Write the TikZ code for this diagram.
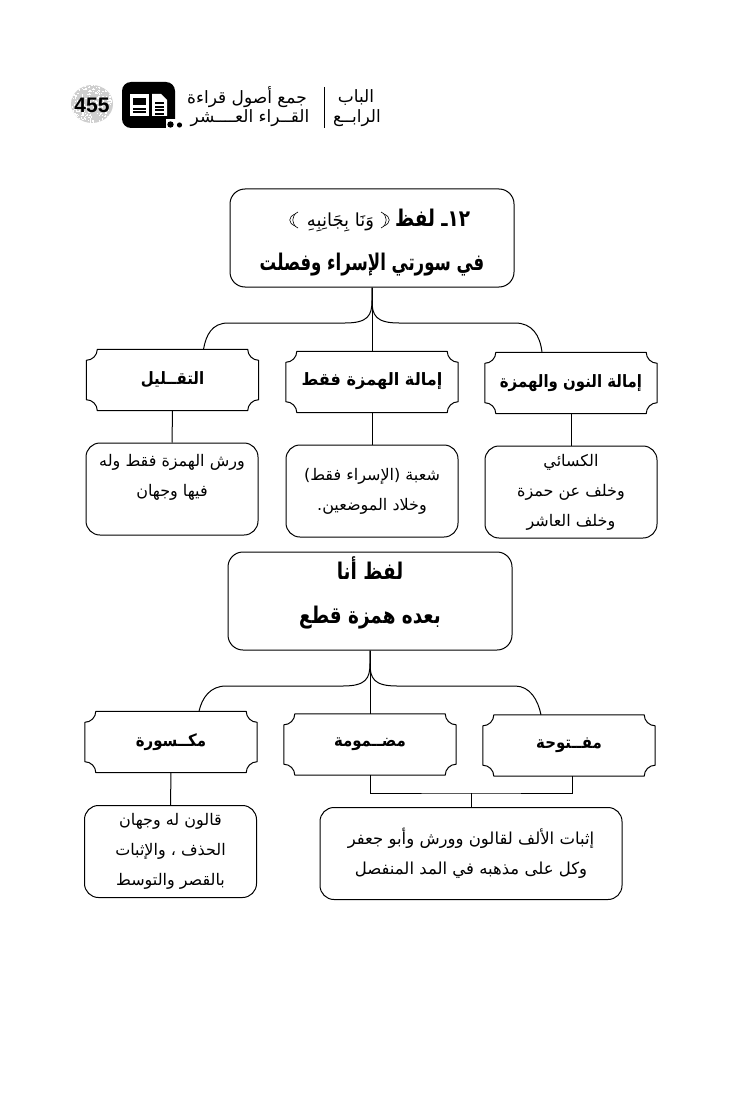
\documentclass[tikz,border=0pt]{standalone}
\usepackage{fontspec}
\usepackage{graphicx}
\setmainfont{Liberation Sans}
\newfontfamily\arabicfont[Script=Arabic]{DejaVu Sans}
\TeXXeTstate=1
\newcommand{\ar}[1]{\beginR #1\endR}
\newcommand{\arc}[1]{\scalebox{.8}[1]{\ar{#1}}}
\newcommand{\arp}[2][.88]{\scalebox{#1}[1]{\ar{#2}}}
\tikzset{
  ink/.style={draw=black,line width=1pt},
  link/.style={draw=black,line width=1pt},
  ornament/.style={draw=black,line width=0.6pt},
  plaque/.style={minimum width=172pt,minimum height=61pt,inner sep=0pt,align=center,
    font=\arabicfont\bfseries\fontsize{17}{20}\selectfont,
    append after command={
      \pgfextra{
        \draw[ink,line join=round]
        ([xshift=11pt]\tikzlastnode.north west) -- ([xshift=-11pt]\tikzlastnode.north east)
        .. controls ([xshift=-11pt,yshift=-6pt]\tikzlastnode.north east) and ([xshift=-6pt,yshift=-11pt]\tikzlastnode.north east) .. ([yshift=-11pt]\tikzlastnode.north east)
        -- ([yshift=11pt]\tikzlastnode.south east)
        .. controls ([xshift=-6pt,yshift=11pt]\tikzlastnode.south east) and ([xshift=-11pt,yshift=6pt]\tikzlastnode.south east) .. ([xshift=-11pt]\tikzlastnode.south east)
        -- ([xshift=11pt]\tikzlastnode.south west)
        .. controls ([xshift=11pt,yshift=6pt]\tikzlastnode.south west) and ([xshift=6pt,yshift=11pt]\tikzlastnode.south west) .. ([yshift=11pt]\tikzlastnode.south west)
        -- ([yshift=-11pt]\tikzlastnode.north west)
        .. controls ([xshift=6pt,yshift=-11pt]\tikzlastnode.north west) and ([xshift=11pt,yshift=-6pt]\tikzlastnode.north west) .. cycle;
      }
    }},
  titlebox/.style={ink,rounded corners=15pt,minimum width=284pt,minimum height=98pt,inner sep=0pt,align=center,
    font=\arabicfont\bfseries\fontsize{23}{44}\selectfont},
  bodybox/.style={ink,rounded corners=14pt,minimum width=172pt,minimum height=92pt,inner sep=0pt,align=center,
    font=\arabicfont\fontsize{16}{30}\selectfont},
  widebox/.style={bodybox,minimum width=302pt},
  headtext/.style={inner sep=0pt,font=\arabicfont\fontsize{17}{20}\selectfont},
}
\begin{document}
\begin{tikzpicture}[x=1pt,y=-1pt]
\useasboundingbox (0,0) rectangle (746,1094);
% header
\begin{scope}
\clip (92,104) ellipse [x radius=21pt,y radius=19pt];
\fill[gray!38] (70,84) rectangle (114,124);
\pgfmathsetseed{7}
\foreach \i in {1,...,260}{
  \pgfmathsetmacro{\px}{70+44*rnd}
  \pgfmathsetmacro{\py}{84+40*rnd}
  \fill[white] (\px,\py) rectangle (\px+1.3,\py+1.3);
}
\end{scope}
\node[inner sep=0pt,font=\bfseries\fontsize{21}{21}\selectfont] (pagenum) at (92,105) {455};
\fill[black,rounded corners=9pt] (122,82) rectangle (175,128);
\fill[white] (166,128) -- (166,119) -- (176,119) -- (176,128) -- cycle;
\fill[black] (170.5,124.5) circle [radius=3.2pt];
\fill[black] (179.5,125) circle [radius=2.6pt];
\fill[white] (130,94) rectangle (149,116);
\fill[white] (152,94) -- (161,94) -- (167,100) -- (167,116) -- (152,116) -- cycle;
\fill[black] (133,98) rectangle (146,105);
\foreach \yy in {108,111.5} \fill[black] (133,\yy) rectangle (146,\yy+1.8);
\foreach \yy in {102,106,109.5,113} \fill[black] (155,\yy) rectangle (164,\yy+1.8);
\draw[black,line width=0.8pt] (324,87) -- (324,128);
\node[headtext] (h1) at (356,97) {\ar{الباب}};
\node[headtext] (h2) at (357,118) {\ar{الرابــع}};
\node[headtext] (h3) at (247,97) {\ar{جمع أصول قراءة}};
\node[headtext] (h4) at (250,118) {\ar{القــراء العــــشر}};
% first tree
\node[titlebox] (m1) at (372,238) {\rule{0pt}{27pt}\hspace*{33pt}{\mdseries\fontsize{18}{18}\selectfont\ar{وَنَا بِجَانِبِهِ}}\hspace{21pt}\arc{١٢ـ لفظ}\\\scalebox{.72}[1]{\ar{في سورتي الإسراء وفصلت}}};
\draw[ornament] (298,212) .. controls (291,215) and (291,225) .. (298,228);
\draw[ornament] (295,214) .. controls (288,217) and (288,223) .. (295,226);
\draw[ornament] (381,212) .. controls (388,215) and (388,225) .. (381,228);
\draw[ornament] (384,214) .. controls (391,217) and (391,223) .. (384,226);
\node[plaque] (pc) at (172.5,380) {\raisebox{2pt}{\arp{التقــليل}}};
\node[plaque] (pb) at (372,382) {\raisebox{5pt}{\arp[.95]{إمالة الهمزة فقط}}};
\node[plaque] (pa) at (571,383) {\raisebox{2pt}{\arp{إمالة النون والهمزة}}};
\node[bodybox] (bc) at (172,489) {\ar{ورش الهمزة فقط وله}\\\ar{فيها وجهان}\\[-2pt]};
\node[bodybox] (bb) at (372,491) {\ar{شعبة (الإسراء فقط)}\\\ar{وخلاد الموضعين.}};
\node[bodybox] (ba) at (571,492) {\ar{الكسائي}\\\ar{وخلف عن حمزة}\\\ar{وخلف العاشر}};
\draw[link] (m1.south) -- (pb.north);
\draw[link] (m1.south) -- ++(0,13) .. controls ++(0,15) and (368,323) .. (345,323) -- (228,323) .. controls (212,323) and (206,335) .. ([xshift=31pt]pc.north);
\draw[link] (m1.south) -- ++(0,13) .. controls ++(0,15) and (376,323) .. (399,323) -- (515,323) .. controls (532,323) and (540,335) .. ([xshift=-29pt]pa.north);
\draw[link] (pc.south) -- (bc.north);
\draw[link] (pb.south) -- (bb.north);
\draw[link] (pa.south) -- (ba.north);
% second tree
\node[titlebox] (m2) at (370,601) {\arc{لفظ أنا}\\\arc{بعده همزة قطع}\\[-22pt]};
\node[plaque] (qc) at (171,742) {\arp{مكــسورة}};
\node[plaque] (qb) at (370,744.5) {\arp{مضــمومة}};
\node[plaque] (qa) at (569,745.5) {\arp{مفــتوحة}};
\node[bodybox] (rc) at (170.5,851.5) {\ar{قالون له وجهان}\\\ar{الحذف ، والإثبات}\\\ar{بالقصر والتوسط}};
\node[widebox,font=\arabicfont\fontsize{16.5}{30}\selectfont] (rb) at (471,853.5) {\ar{إثبات الألف لقالون وورش وأبو جعفر}\\\ar{وكل على مذهبه في المد المنفصل}};
\draw[link] (m2.south) -- (qb.north);
\draw[link] (m2.south) -- ++(0,13) .. controls ++(0,15) and (366,686) .. (343,686) -- (226,686) .. controls (210,686) and (202,698) .. ([xshift=28pt]qc.north);
\draw[link] (m2.south) -- ++(0,13) .. controls ++(0,15) and (374,686) .. (397,686) -- (515,686) .. controls (530,686) and (538,700) .. ([xshift=-28pt]qa.north);
\draw[link] (qc.south) -- (rc.north);
\coordinate (brk) at (471,793);
\draw[link] (qb.south) |- (brk) -| ([xshift=3pt]qa.south);
\draw[link] (brk) -- (rb.north);
\end{tikzpicture}
\end{document}
